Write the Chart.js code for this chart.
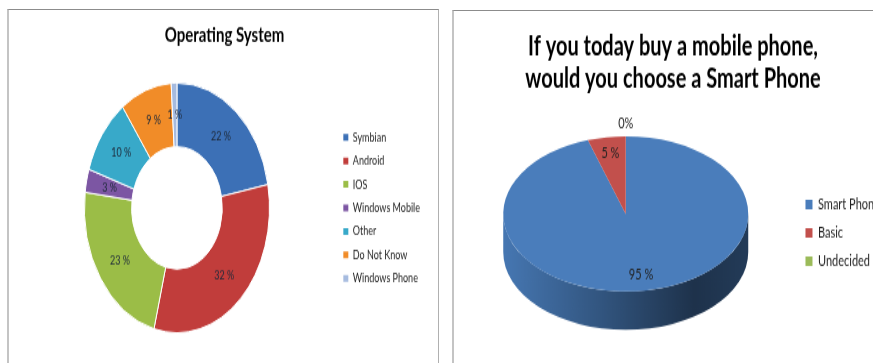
<!DOCTYPE html>
<html>
<head>
<meta charset="utf-8">
<script src="https://cdn.jsdelivr.net/npm/chart.js@4.4.1/dist/chart.umd.min.js"></script>
<style>
  html, body { margin: 0; padding: 0; background: #fff; width: 873px; height: 363px; overflow: hidden; }
  .frame { position: absolute; height: 420px; border-top: 1px solid #8c8c8c; border-left: 2px solid #c4c4c4; border-right: 1px solid #b0b0b0; }
  canvas { position: absolute; top: 0; transform-origin: 0 0; transform: scaleY(1.35); }
</style>
</head>
<body>
<div class="frame" style="left:7px; top:9px; width:429px;"></div>
<div class="frame" style="left:452px; top:10px; width:440px;"></div>
<canvas id="osChart" width="430" height="269" style="left:0px;"></canvas>
<canvas id="buyChart" width="450" height="269" style="left:440px;"></canvas>
<script>
// data
const osLabels = ['Symbian', 'Android', 'IOS', 'Windows Mobile', 'Other', 'Do Not Know', 'Windows Phone'];
const osShares = [22, 32, 23, 3, 10, 9, 1];
const osColors = ['#3c70b6', '#c13d3b', '#9bbd47', '#7c56a3', '#38a9c9', '#f18c28', '#a6bbdf'];

const buyLabels = ['Smart Phone', 'Basic', 'Undecided'];
const buyShares = [95, 5, 0];
const buyColors = ['#4a7dbb', '#c2504c', '#9bbb59'];

const shade = (hex, f) => {
  const n = parseInt(hex.slice(1), 16);
  const r = Math.round(((n >> 16) & 255) * f), g = Math.round(((n >> 8) & 255) * f), b = Math.round((n & 255) * f);
  return 'rgb(' + r + ',' + g + ',' + b + ')';
};

// square legend boxes without white outline
const flatBoxes = (chart) => Chart.overrides.pie.plugins.legend.labels.generateLabels(chart)
  .map(l => Object.assign(l, { strokeStyle: l.fillStyle, lineWidth: 0 }));

// percentage labels on the slices
const pctLabels = {
  id: 'pctLabels',
  afterDraw(chart, args, opts) {
    const ctx = chart.ctx;
    const values = chart.data.datasets[0].data;
    ctx.save();
    ctx.font = opts.font;
    ctx.fillStyle = opts.color;
    ctx.textAlign = 'center';
    ctx.textBaseline = 'middle';
    chart.getDatasetMeta(0).data.forEach((arc, i) => {
      const mid = (arc.startAngle + arc.endAngle) / 2;
      const rr = values[i] === 0 ? arc.outerRadius * opts.outside
        : arc.innerRadius + (arc.outerRadius - arc.innerRadius) * opts.at;
      const x = arc.x + Math.cos(mid) * rr;
      const y = arc.y - opts.lift + Math.sin(mid) * rr * opts.squash;
      ctx.fillText(values[i] + (values[i] === 0 ? '%' : ' %'), x, y);
    });
    ctx.restore();
  }
};

// flattens the pie and draws its rim
const tilt = {
  id: 'tilt',
  beforeDatasetsDraw(chart, args, opts) {
    const ctx = chart.ctx;
    const arcs = chart.getDatasetMeta(0).data;
    const cx = arcs[0].x, cy = arcs[0].y, r = arcs[0].outerRadius;
    const d = opts.depth / opts.squash;
    ctx.save();
    ctx.translate(cx, cy - opts.depth / 2);
    ctx.scale(1, opts.squash);
    ctx.translate(-cx, -cy);
    arcs.forEach(arc => {
      const c = arc.options.backgroundColor;
      const grad = ctx.createLinearGradient(cx - r, 0, cx + r, 0);
      grad.addColorStop(0, shade(c, 0.95));
      grad.addColorStop(0.4, shade(c, 0.68));
      grad.addColorStop(0.78, shade(c, 0.4));
      grad.addColorStop(1, shade(c, 0.47));
      [-2 * Math.PI, 0, 2 * Math.PI].forEach(s => {
        const a0 = Math.max(arc.startAngle + s, 0);
        const a1 = Math.min(arc.endAngle + s, Math.PI);
        if (a1 <= a0) return;
        ctx.beginPath();
        ctx.arc(cx, cy, r, a0, a1);
        ctx.arc(cx, cy + d, r, a1, a0, true);
        ctx.closePath();
        ctx.fillStyle = grad;
        ctx.fill();
      });
    });
  },
  afterDatasetsDraw(chart) {
    chart.ctx.restore();
  }
};

Chart.defaults.font.family = 'Lato';
Chart.defaults.color = '#1a1a1a';

new Chart('osChart', {
  type: 'doughnut',
  data: {
    labels: osLabels,
    datasets: [{
      data: osShares,
      backgroundColor: osColors,
      borderColor: '#ffffff',
      borderWidth: 1,
      radius: 92.5,
      cutout: '49%',
      clip: false
    }]
  },
  options: {
    responsive: false,
    animation: false,
    events: [],
    devicePixelRatio: 1,
    layout: { padding: { top: 17.5, left: 19, right: 0, bottom: 22.5 } },
    plugins: {
      title: {
        display: true,
        text: 'Operating System',
        color: '#000',
        font: { size: 15, weight: 'bold', lineHeight: 1.2 },
        padding: { top: 0, bottom: 26 }
      },
      legend: {
        position: 'right',
        fullSize: false,
        labels: {
          boxWidth: 5,
          boxHeight: 5,
          padding: 8.4,
          font: { size: 9 },
          color: '#222',
          generateLabels: flatBoxes
        }
      },
      tooltip: { enabled: false },
      pctLabels: { font: '9px Lato', color: '#1e2a3a', at: 0.5, outside: 1.1, squash: 1, lift: 0 }
    }
  },
  plugins: [pctLabels]
});

new Chart('buyChart', {
  type: 'pie',
  data: {
    labels: buyLabels,
    datasets: [{
      data: buyShares,
      backgroundColor: buyColors,
      borderWidth: 0,
      radius: 122.5,
      clip: false
    }]
  },
  options: {
    responsive: false,
    animation: false,
    events: [],
    devicePixelRatio: 1,
    layout: { padding: { top: 22.2, left: 16, right: 0, bottom: 4.8 } },
    plugins: {
      title: {
        display: true,
        text: ['If you today buy a mobile phone,', 'would you choose a Smart Phone'],
        color: '#000',
        font: { size: 20, weight: 'bold', lineHeight: 1.22 },
        padding: { top: 0, bottom: 10 }
      },
      legend: {
        position: 'right',
        fullSize: false,
        labels: {
          boxWidth: 7,
          boxHeight: 7,
          padding: 10,
          font: { size: 11 },
          color: '#222',
          generateLabels: flatBoxes
        }
      },
      tooltip: { enabled: false },
      tilt: { depth: 28.4, squash: 0.469 },
      pctLabels: { font: '11px Lato', color: '#222', at: 0.8, outside: 1.16, squash: 0.469, lift: 14.2 }
    }
  },
  plugins: [tilt, pctLabels]
});
</script>
</body>
</html>
